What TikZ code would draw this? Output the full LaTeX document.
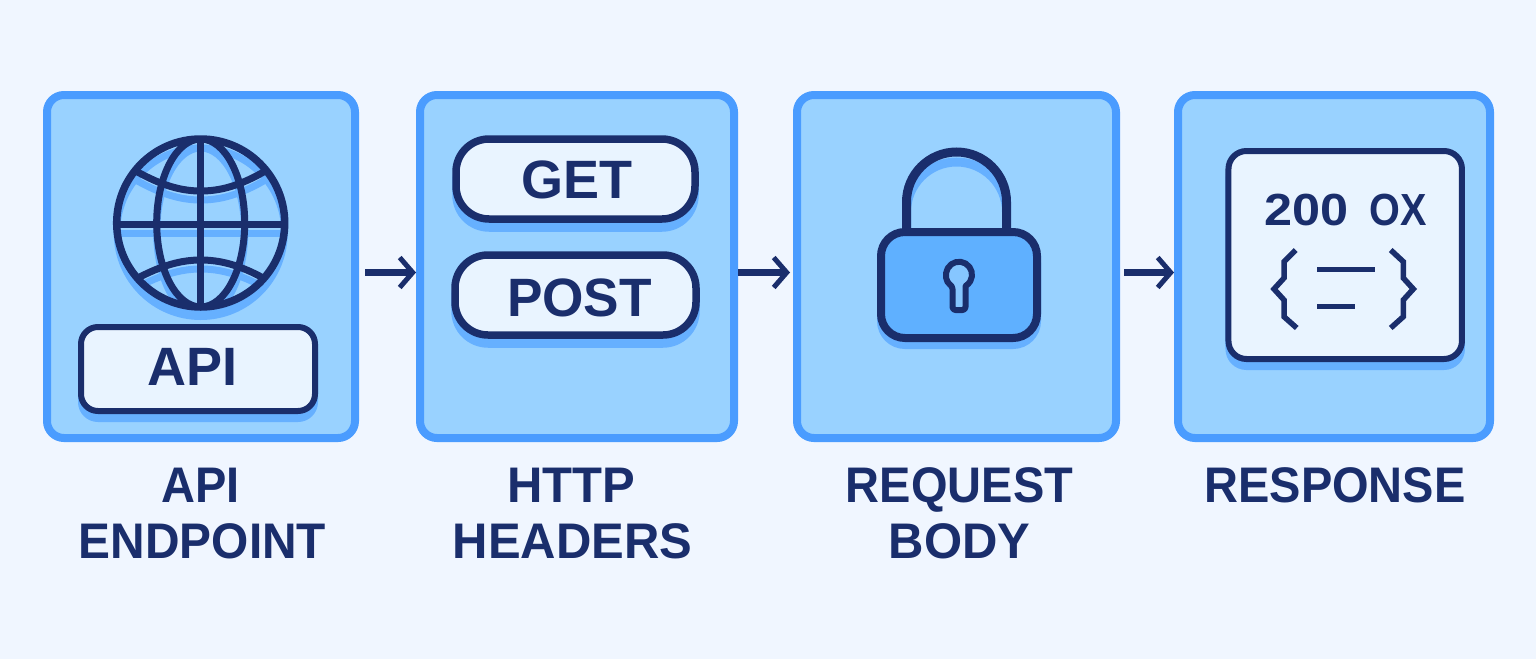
\documentclass[tikz,border=0pt]{standalone}
\usepackage{graphicx}
\usepackage{fontspec}
\setmainfont{Liberation Sans}[BoldFont=* Bold]
\usetikzlibrary{arrows.meta,shadows}
\definecolor{bgc}{HTML}{F0F6FF}
\definecolor{cardfill}{HTML}{99D2FF}
\definecolor{cardedge}{HTML}{4A9CFF}
\definecolor{navy}{HTML}{1A2E6C}
\definecolor{shadowblue}{HTML}{66B0FF}
\definecolor{pale}{HTML}{E9F4FF}
\definecolor{lockc}{HTML}{5FB0FF}
\definecolor{holec}{HTML}{86C6FF}
\tikzset{
  x=1pt,y=-1pt,
  card/.style={draw=cardedge,fill=cardfill,line width=8pt,rounded corners=17pt,inner sep=0pt,minimum height=343pt},
  pill/.style={draw=navy,fill=pale,line width=7.5pt,rounded corners=33pt,inner sep=0pt,minimum width=240pt,minimum height=80pt,
    general shadow={fill=shadowblue,draw=shadowblue,line width=7.5pt,shadow yshift=-9pt}},
  apibox/.style={draw=navy,fill=pale,line width=6pt,rounded corners=17pt,inner sep=0pt,
    general shadow={fill=shadowblue,draw=shadowblue,line width=6pt,shadow yshift=-8pt}},
  flow/.style={draw=navy,line width=6.5pt,-{Straight Barb[length=13pt,width=30pt,line width=5pt]}},
  captext/.style={text=navy,font=\fontsize{50}{50}\selectfont\bfseries,anchor=base,inner sep=0pt},
  boxtext/.style={text=navy,font=\fontsize{54}{54}\selectfont\bfseries,anchor=base,inner sep=0pt},
  glob/.style={line width=7pt},
}
\newcommand{\globelines}{
  \draw[glob] (200.7,139) -- (200.7,307);
  \draw[glob] (116.7,224) -- (284.7,224);
  \draw[glob] (200.7,223) ellipse [x radius=44,y radius=84];
  \draw[glob] (134,170) .. controls (162,186) and (182,191) .. (200.7,191) .. controls (220,191) and (240,186) .. (267,170);
  \draw[glob] (136,279) .. controls (162,265) and (182,260) .. (200.7,260) .. controls (220,260) and (240,265) .. (265,279);
}
\newcommand{\sx}[2]{\scalebox{#1}[1]{#2}}
\begin{document}
\begin{tikzpicture}
\useasboundingbox (0,0) rectangle (1536,659);
\fill[bgc] (0,0) rectangle (1536,659);
% cards
\node[card,minimum width=308pt] (c1) at (201,266.5) {};
\node[card,minimum width=314pt] (c2) at (577,266.5) {};
\node[card,minimum width=319pt] (c3) at (956.5,266.5) {};
\node[card,minimum width=312pt] (c4) at (1334,266.5) {};
% connectors
\draw[flow] ([xshift=6pt,yshift=-6pt]c1.east) -- ([yshift=-6pt]c2.west);
\draw[flow] ([yshift=-6pt]c2.east) -- ([yshift=-6pt,xshift=-3pt]c3.west);
\draw[flow] ([xshift=4pt,yshift=-6pt]c3.east) -- ([yshift=-6pt]c4.west);
% globe
\fill[shadowblue] (200.7,233) circle [radius=87];
\fill[cardfill] (200.7,223) circle [radius=84];
\begin{scope}
  \clip (200.7,223) circle [radius=84];
  \begin{scope}[yshift=-9pt,draw=shadowblue]
    \draw[glob] (200.7,223) circle [radius=84];
    \globelines
  \end{scope}
\end{scope}
\begin{scope}
  \clip (200.7,223) circle [radius=85];
  \begin{scope}[draw=navy]
    \globelines
  \end{scope}
\end{scope}
\draw[navy,line width=7.5pt] (200.7,223) circle [radius=84];
% API box
\node[apibox,minimum width=234pt,minimum height=84pt] (apib) at (198,369) {};
\node[boxtext] (apit) at (192.5,385) {API};
% method pills
\node[pill,minimum width=239pt] (getb) at (575.5,179) {};
\node[boxtext] (gett) at (577,198) {GET};
\node[pill,minimum width=241pt] (postb) at (575.5,295) {};
\node[boxtext] (postt) at (579.5,316) {\sx{.985}{POST}};
% lock
\begin{scope}
  \clip (911,152) rectangle (1002,232);
  \draw[shadowblue,line width=9pt] (906.5,240) -- (906.5,212) arc [start angle=180,end angle=360,radius=50] -- (1006.5,240);
\end{scope}
\draw[navy,line width=9pt] (906.5,235) -- (906.5,202) arc [start angle=180,end angle=360,radius=50] -- (1006.5,235);
\node[draw=navy,fill=lockc,line width=8pt,rounded corners=24pt,inner sep=0pt,minimum width=156pt,minimum height=106pt,
  general shadow={fill=shadowblue,draw=shadowblue,line width=8pt,shadow yshift=-7pt}] (lockb) at (959,285) {};
\draw[navy,fill=holec,line width=6pt,line join=round] (952.5,286)
  arc [start angle=120,end angle=420,radius=13] -- (965.5,304) [rounded corners=3pt] -- (965.5,310) -- (952.5,310) -- cycle;
% response panel
\node[apibox,rounded corners=18pt,minimum width=233.5pt,minimum height=208pt] (respb) at (1345.2,255) {};
\node[text=navy,font=\fontsize{45}{45}\selectfont\bfseries,anchor=base,inner sep=0pt] (respt) at (1345.5,225) {\sx{1.12}{200}\hspace{21.7pt}\sx{.88}{OX}};
\draw[navy,line width=5.5pt] (1295.7,250) -- (1284,261.7) -- (1284,278) -- (1274,289) -- (1284,300) -- (1284,316.7) -- (1296.7,328);
\draw[navy,line width=5.5pt] (1390.7,250) -- (1403.3,261.7) -- (1403.3,278) -- (1413.3,289) -- (1403.3,300) -- (1403.3,316.7) -- (1390.7,328);
\draw[navy,line width=5.5pt] (1317,269.5) -- (1375,269.5);
\draw[navy,line width=5.5pt] (1317,306.5) -- (1355,306.5);
% captions
\node[captext] (l1a) at (200.5,502) {\sx{.94}{API}};
\node[captext] (l1b) at (202.5,558) {\sx{.957}{ENDPOINT}};
\node[captext] (l2a) at (571.5,502) {\sx{.98}{HTTP}};
\node[captext] (l2b) at (572.5,558) {\sx{.98}{HEADERS}};
\node[captext] (l3a) at (959.5,502) {\sx{.94}{REQUEST}};
\node[captext] (l3b) at (959.5,558) {\sx{.98}{BODY}};
\node[captext] (l4a) at (1335,502) {\sx{.94}{RESPONSE}};
\end{tikzpicture}
\end{document}
